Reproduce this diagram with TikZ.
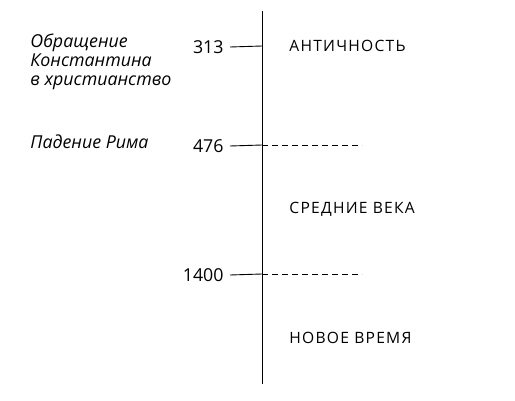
\documentclass[tikz,border=0pt]{standalone}
\usepackage{fontspec}
\setmainfont{Open Sans}
\newfontfamily\eraface[LetterSpace=8]{Open Sans}
\usetikzlibrary{positioning}

\begin{document}
\begin{tikzpicture}[x=1pt,y=-1pt,line width=0.9pt,
    year/.style={anchor=east, inner xsep=6pt, inner ysep=0pt, font=\fontsize{17.8}{17.8}\selectfont},
    era/.style={anchor=base west, inner sep=0pt, font=\eraface\fontsize{15.6}{15.6}\selectfont},
    event/.style={anchor=base west, inner sep=0pt, align=left, font=\itshape\fontsize{17.8}{19}\selectfont},
    later/.style={dash pattern=on 6pt off 4pt}]
        \useasboundingbox (0,0) rectangle (515,401);

        % Time axis
        \coordinate (top) at (262,11);
        \coordinate (bottom) at (262,384);
        \draw (top) -- (bottom);

        % Years and ticks
        \coordinate (a313) at (262,46);
        \coordinate (a476) at (262,145);
        \coordinate (a1400) at (262,274);
        \node[year] (y313) at (230,47) {313};
        \node[year] (y476) at (230,146) {476};
        \node[year] (y1400) at (230,275) {1400};
        \draw (y313.east) -- (a313);
        \draw (y476.east) -- (a476);
        \draw (y1400.east) -- (a1400);

        % Era borders
        \coordinate (d476) at (362,145);
        \coordinate (d1400) at (362,274);
        \draw[later] (a476) -- (d476);
        \draw[later] (a1400) -- (d1400);

        % Events
        \node[event] (constantine) at (30,86) {Обращение\\Константина\\в христианство};
        \node[event] (rome) at (30,149) {Падение Рима};

        % Eras
        \node[era] (antiquity) at (289,52) {АНТИЧНОСТЬ};
        \node[era] (middle) at (289,214) {СРЕДНИЕ ВЕКА};
        \node[era] (modern) at (289,344) {НОВОЕ ВРЕМЯ};
\end{tikzpicture}
\end{document}
